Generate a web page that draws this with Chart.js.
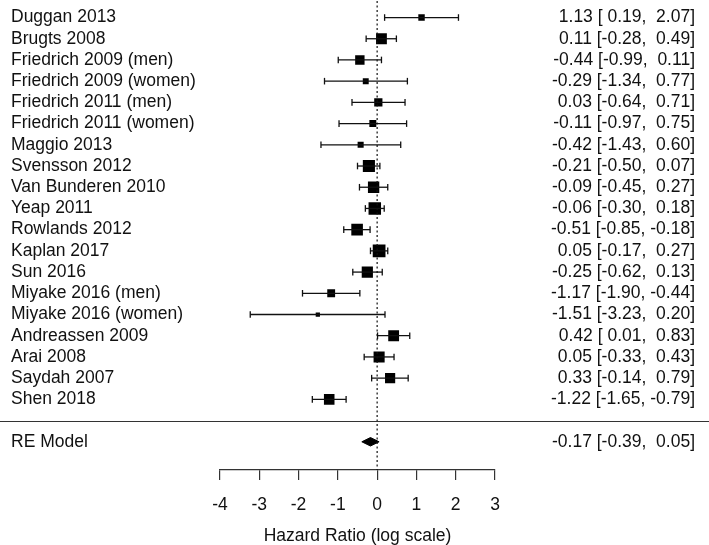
<!DOCTYPE html>
<html>
<head>
<meta charset="utf-8">
<script src="https://cdn.jsdelivr.net/npm/chart.js@4.4.0/dist/chart.umd.min.js"></script>
<style>
  body { margin: 0; background: #fff; }
</style>
</head>
<body>
<canvas id="forest" width="709" height="545"></canvas>
<script>
const studies = [
    'Duggan 2013', 'Brugts 2008', 'Friedrich 2009 (men)', 'Friedrich 2009 (women)',
    'Friedrich 2011 (men)', 'Friedrich 2011 (women)', 'Maggio 2013', 'Svensson 2012',
    'Van Bunderen 2010', 'Yeap 2011', 'Rowlands 2012', 'Kaplan 2017', 'Sun 2016',
    'Miyake 2016 (men)', 'Miyake 2016 (women)', 'Andreassen 2009', 'Arai 2008',
    'Saydah 2007', 'Shen 2018'
]
const estimates = [1.13, 0.11, -0.44, -0.29, 0.03, -0.11, -0.42, -0.21, -0.09, -0.06, -0.51, 0.05, -0.25, -1.17, -1.51, 0.42, 0.05, 0.33, -1.22]
const lower = [0.19, -0.28, -0.99, -1.34, -0.64, -0.97, -1.43, -0.50, -0.45, -0.30, -0.85, -0.17, -0.62, -1.90, -3.23, 0.01, -0.33, -0.14, -1.65]
const upper = [2.07, 0.49, 0.11, 0.77, 0.71, 0.75, 0.60, 0.07, 0.27, 0.18, -0.18, 0.27, 0.13, -0.44, 0.20, 0.83, 0.43, 0.79, -0.79]
// study weights (%)
const weights = [2.9, 6.3, 5.2, 2.5, 4.3, 3.3, 2.6, 7.3, 6.7, 7.6, 6.9, 7.8, 6.6, 4.0, 1.2, 6.3, 6.5, 5.8, 6.1]

const summaryLabel = 'RE Model'
const summary = [-0.17, -0.39, 0.05]   // estimate, lower, upper
const xTicks = [-4, -3, -2, -1, 0, 1, 2, 3]
const xTitle = 'Hazard Ratio (log scale)'

const FONT = '"Liberation Sans", Arial, Helvetica, sans-serif'
const INK = '#111'
const sepRow = studies.length
const summaryRow = studies.length + 1
const yMin = -0.19
const yMax = 21.33

function ciText(est, lo, hi) {
    const f = v => v.toFixed(2).padStart(5, ' ')
    return est.toFixed(2) + ' [' + f(lo) + ', ' + f(hi) + ']'
}

// square side grows linearly with weight (0.5x .. 1.5x)
const wMin = Math.min(...weights)
const wMax = Math.max(...weights)
const radii = weights.map(w => 8.5 * (0.5 + (w - wMin) / (wMax - wMin)) / Math.SQRT2)

const datasets = []

// dotted reference line at 0, runs up to the top edge
datasets.push({
    type: 'line',
    data: [{ x: 0, y: yMin - 0.8 }, { x: 0, y: yMax }],
    borderColor: INK,
    borderWidth: 1.2,
    borderDash: [2, 2.5],
    pointRadius: 0,
    clip: false
})

// confidence intervals with end caps
studies.forEach((s, i) => {
    datasets.push({
        type: 'line',
        data: [{ x: lower[i], y: i }, { x: upper[i], y: i }],
        borderColor: INK,
        borderWidth: 1.3,
        pointStyle: 'line',
        rotation: 90,
        pointRadius: 3.3,
        pointBorderWidth: 1.3,
        pointBorderColor: INK,
        clip: false
    })
})

// point estimates
datasets.push({
    type: 'scatter',
    data: estimates.map((e, i) => ({ x: e, y: i })),
    pointStyle: 'rect',
    pointRadius: radii,
    backgroundColor: '#000',
    borderWidth: 0
})

// summary diamond
datasets.push({
    type: 'line',
    data: [
        { x: summary[1], y: summaryRow },
        { x: summary[0], y: summaryRow - 0.2 },
        { x: summary[2], y: summaryRow },
        { x: summary[0], y: summaryRow + 0.2 },
        { x: summary[1], y: summaryRow }
    ],
    borderColor: '#000',
    borderWidth: 1,
    backgroundColor: '#000',
    fill: 'shape',
    pointRadius: 0,
    tension: 0
})

const rowTicks = studies.map((s, i) => ({ value: i })).concat([{ value: summaryRow }])

const separator = {
    id: 'separator',
    afterDraw(chart) {
        const y = Math.round(chart.scales.y.getPixelForValue(sepRow)) + 0.5
        const ctx = chart.ctx
        ctx.save()
        ctx.strokeStyle = '#333'
        ctx.lineWidth = 1.2
        ctx.beginPath()
        ctx.moveTo(0, y)
        ctx.lineTo(chart.width, y)
        ctx.stroke()
        ctx.restore()
    }
}

const yCommon = {
    type: 'linear',
    min: yMin,
    max: yMax,
    reverse: true,
    grid: { display: false },
    border: { display: false },
    afterBuildTicks: axis => { axis.ticks = rowTicks.map(t => ({ value: t.value })) }
}

new Chart(document.getElementById('forest'), {
    type: 'scatter',
    data: { datasets: datasets },
    plugins: [separator],
    options: {
        responsive: false,
        animation: false,
        events: [],
        layout: { autoPadding: false, padding: { left: 11, right: 14, top: 0, bottom: 0 } },
        plugins: {
            legend: { display: false },
            tooltip: { enabled: false }
        },
        scales: {
            x: {
                type: 'linear',
                position: 'bottom',
                min: -4,
                max: 3,
                afterBuildTicks: axis => { axis.ticks = xTicks.map(v => ({ value: v })) },
                afterFit: axis => { axis.height = 75 },
                grid: {
                    display: true,
                    drawOnChartArea: false,
                    drawTicks: true,
                    tickLength: 10,
                    color: '#333',
                    lineWidth: 1.2
                },
                border: { display: true, color: '#333', width: 1.2 },
                ticks: {
                    color: INK,
                    font: { family: FONT, size: 17.5 },
                    padding: 15,
                    maxRotation: 0,
                    autoSkip: false
                },
                title: {
                    display: true,
                    text: xTitle,
                    color: INK,
                    font: { family: FONT, size: 17.5 },
                    padding: { top: 0, bottom: -2 }
                }
            },
            y: Object.assign({}, yCommon, {
                position: 'left',
                afterFit: axis => { axis.width = 209 },
                ticks: {
                    color: INK,
                    font: { family: FONT, size: 17.5 },
                    crossAlign: 'far',
                    autoSkip: false,
                    callback: v => v === summaryRow ? summaryLabel : studies[v]
                }
            }),
            y2: Object.assign({}, yCommon, {
                position: 'right',
                afterFit: axis => { axis.width = 200 },
                ticks: {
                    color: INK,
                    font: { family: FONT, size: 17.5 },
                    crossAlign: 'far',
                    autoSkip: false,
                    callback: v => v === summaryRow
                        ? ciText(summary[0], summary[1], summary[2])
                        : ciText(estimates[v], lower[v], upper[v])
                }
            })
        }
    }
})
</script>
</body>
</html>
